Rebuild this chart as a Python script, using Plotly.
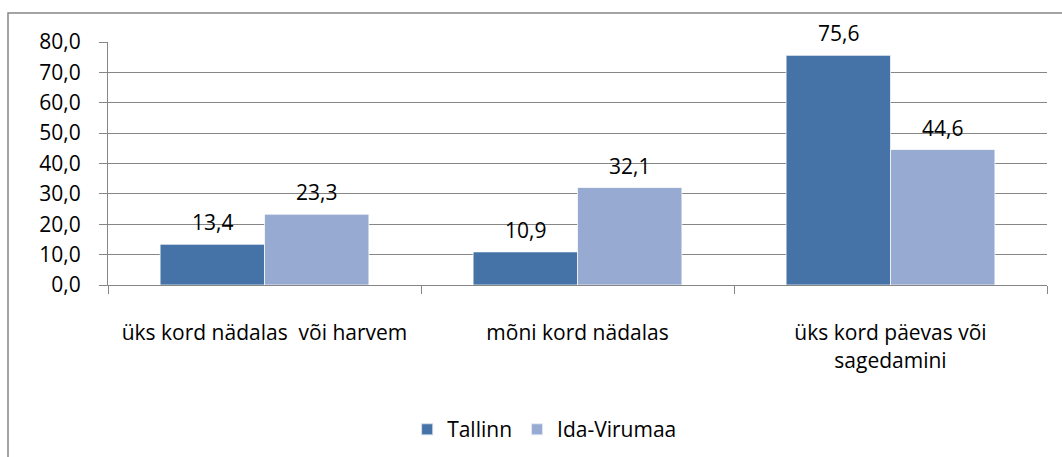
import plotly.graph_objects as go

categories = ["üks kord nädalas  või harvem", "mõni kord nädalas", "üks kord päevas või<br>sagedamini"]
tallinn = [13.4, 10.9, 75.6]
ida_virumaa = [23.3, 32.1, 44.6]
y_ticks = [0, 10, 20, 30, 40, 50, 60, 70, 80]
series_names = ["Tallinn", "Ida-Virumaa"]
series_colors = ["#4573A7", "#97ABD2"]

FONT = "'Open Sans', 'Noto Sans', sans-serif"
FS = 21
GRID = "#868686"
BARGAP = 0.333
L, R, T, B = 108, 15, 42, 172
W, H = 1062, 457

def fmt(v):
    return f"{v:.1f}".replace(".", ",")

fig = go.Figure()
for name, vals, col in zip(series_names, [tallinn, ida_virumaa], series_colors):
    fig.add_trace(go.Bar(
        name=name, x=categories, y=vals,
        marker=dict(color=col, line=dict(color="rgba(255,255,255,0.7)", width=1)),
    ))

# data labels above each bar, offset by half a bar width (derived from layout)
plot_w = W - L - R
bar_w = plot_w / len(categories) * (1 - BARGAP) / 2
annotations = []
for k, vals in enumerate([tallinn, ida_virumaa]):
    shift = (k - 0.5) * bar_w
    for c, v in zip(categories, vals):
        annotations.append(dict(
            x=c, y=v, xref="x", yref="y", text=fmt(v), showarrow=False,
            xshift=shift, yshift=22, yanchor="middle", xanchor="center",
            font=dict(size=FS, color="black", family=FONT),
        ))

fig.update_layout(
    width=W, height=H,
    margin=dict(l=L, r=R, t=T, b=B, autoexpand=False),
    paper_bgcolor="white", plot_bgcolor="white",
    separators=", ",
    barmode="group", bargap=BARGAP, bargroupgap=0,
    font=dict(family=FONT, size=FS, color="black"),
    showlegend=True,
    legend=dict(orientation="h", x=0.465, y=-0.595, xanchor="center", yanchor="middle",
                font=dict(size=FS, family=FONT), itemsizing="constant"),
    annotations=annotations,
    shapes=[dict(type="rect", xref="paper", yref="paper",
                 x0=(8 - L) / plot_w, x1=1.2, y0=-1.2, y1=1 + (T - 13) / (H - T - B),
                 line=dict(color=GRID, width=1.5), layer="below")],
)
fig.update_yaxes(
    range=[0, 80], tickvals=y_ticks, tickformat=".1f",
    showgrid=True, gridcolor=GRID, gridwidth=1,
    showline=True, linecolor=GRID, linewidth=1,
    ticks="outside", ticklen=8, tickcolor=GRID,
    ticklabelstandoff=14, zeroline=False,
    tickfont=dict(size=FS, family=FONT),
)
fig.update_xaxes(
    showline=True, linecolor=GRID, linewidth=1,
    ticks="outside", ticklen=8, tickcolor=GRID, tickson="boundaries",
    ticklabelstandoff=29, tickfont=dict(size=FS, family=FONT),
    tickangle=0,
)

fig.write_html("out.html", config={"displayModeBar": False},
               post_script="document.body.style.margin='0';document.body.style.padding='0';")
